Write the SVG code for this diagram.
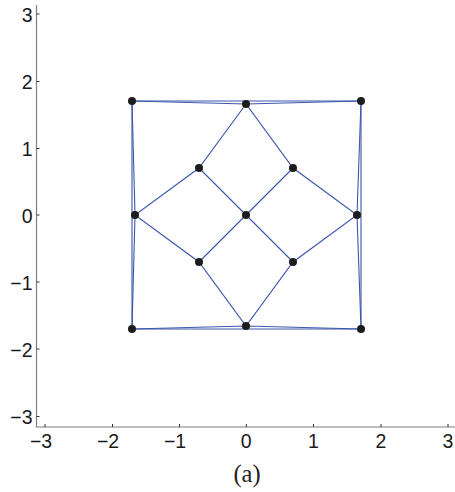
<svg xmlns="http://www.w3.org/2000/svg" width="455" height="492" viewBox="0 0 455 492">
<style>
.ax{stroke:#7f7f7f;stroke-width:1.2;fill:none}
.tk{stroke:#333;stroke-width:1;fill:none}
.tl{font-family:'Liberation Sans',Arial,Helvetica,sans-serif;font-size:19.5px;fill:#1a1a1a}
.e{stroke:#3a57ab;stroke-width:1.1;fill:none}
.n{fill:#1c1c1c}
</style>
<rect width="455" height="492" fill="#fff"/>
<g id="axes">
<path class="ax" d="M36.5,5 V427 H455"/>
<path class="tk" d="M36.5,14 h3 M36.5,81.5 h3 M36.5,148.5 h3 M36.5,215 h3 M36.5,282 h3 M36.5,349 h3 M36.5,416.5 h3"/>
<path class="tk" d="M45,427 v-3 M112.5,427 v-3 M179.5,427 v-3 M246.3,427 v-3 M313.5,427 v-3 M381,427 v-3 M448,427 v-3"/>
<g class="tl" text-anchor="end">
<text x="32.5" y="21.5">3</text>
<text x="32.5" y="89">2</text>
<text x="32.5" y="156">1</text>
<text x="32.5" y="222.5">0</text>
<text x="32.5" y="289.5">−1</text>
<text x="32.5" y="356.5">−2</text>
<text x="32.5" y="424">−3</text>
</g>
<g class="tl" text-anchor="middle">
<text x="41" y="448">−3</text>
<text x="108" y="448">−2</text>
<text x="175" y="448">−1</text>
<text x="246.3" y="448">0</text>
<text x="313.5" y="448">1</text>
<text x="381" y="448">2</text>
<text x="448" y="448">3</text>
</g>
<text x="247" y="482" text-anchor="middle" font-family="'Liberation Serif','Times New Roman',serif" font-size="24.5" fill="#222">(a)</text>
</g>
<g id="connectors">
<path class="e" d="M132,101 L361,101 M132,329 L361,329 M132,101 L132,329 M361,101 L361,329"/>
<path class="e" d="M132,101 L246,104 L361,101 M132,329 L246,326 L361,329 M132,101 L135,215 L132,329 M361,101 L357,215 L361,329"/>
<path class="e" d="M246,104 L199,168 L135,215 L199,262 L246,326 L293,262 L357,215 L293,168 Z"/>
<path class="e" d="M199,168 L293,262 M293,168 L199,262"/>
</g>
<g id="n-tl"><circle class="n" cx="132" cy="101" r="4"/></g>
<g id="n-tr"><circle class="n" cx="361" cy="101" r="4"/></g>
<g id="n-bl"><circle class="n" cx="132" cy="329" r="4"/></g>
<g id="n-br"><circle class="n" cx="361" cy="329" r="4"/></g>
<g id="n-t"><circle class="n" cx="246" cy="104" r="4"/></g>
<g id="n-b"><circle class="n" cx="246" cy="326" r="4"/></g>
<g id="n-l"><circle class="n" cx="135" cy="215" r="4"/></g>
<g id="n-r"><circle class="n" cx="357" cy="215" r="4"/></g>
<g id="n-ul"><circle class="n" cx="199" cy="168" r="4"/></g>
<g id="n-ur"><circle class="n" cx="293" cy="168" r="4"/></g>
<g id="n-ll"><circle class="n" cx="199" cy="262" r="4"/></g>
<g id="n-lr"><circle class="n" cx="293" cy="262" r="4"/></g>
<g id="n-c"><circle class="n" cx="246" cy="215" r="4"/></g>
</svg>
